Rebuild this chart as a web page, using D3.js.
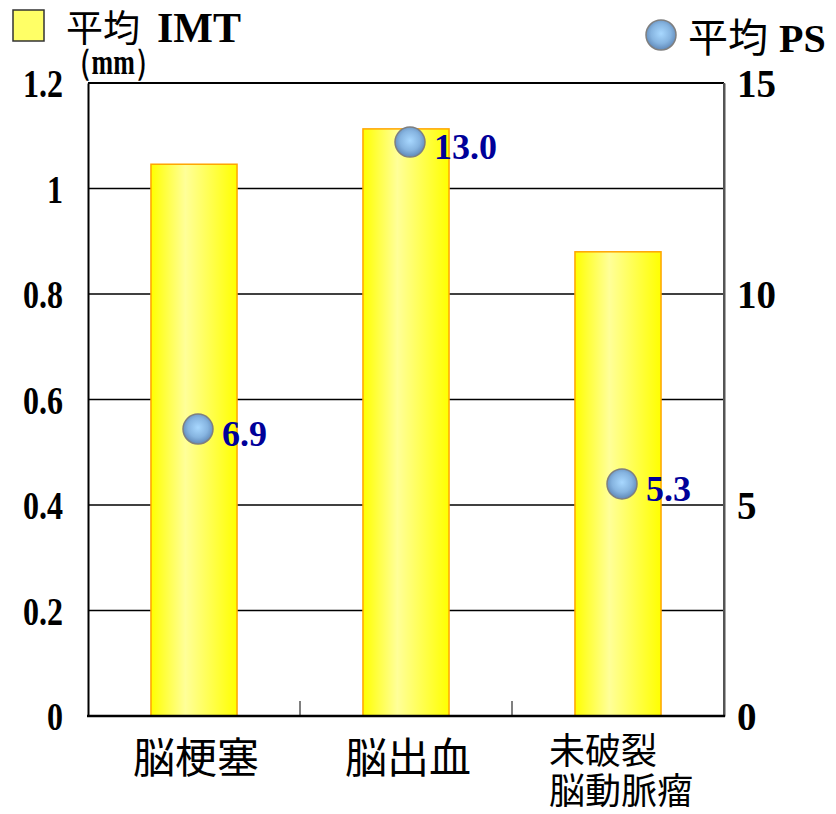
<!DOCTYPE html>
<html>
<head>
<meta charset="utf-8">
<script src="https://cdn.jsdelivr.net/npm/d3@7"></script>
<style>
  html, body { margin: 0; padding: 0; background: #fff; }
  svg { display: block; }
</style>
</head>
<body>
<script>
// ---- data ----
const categories = ["脳梗塞", "脳出血", "未破裂脳動脈瘤"];
const categoryLines = [["脳梗塞"], ["脳出血"], ["未破裂", "脳動脈瘤"]];
const imtValues = [1.046, 1.113, 0.880];
const psValues = [6.8, 13.6, 5.5];
const psLabels = ["6.9", "13.0", "5.3"];
const leftTicks = [0, 0.2, 0.4, 0.6, 0.8, 1.0, 1.2];
const leftTickLabels = ["0", "0.2", "0.4", "0.6", "0.8", "1", "1.2"];
const rightTicks = [0, 5, 10, 15];
const legendIMT = ["平均", "IMT"];
const legendPS = ["平均", "PS"];
const unitLabel = "（mm）";

// ---- layout ----
const W = 836, H = 814;
const L = 88, R = 724, T = 83, B = 716;
const serif = "'Liberation Serif', 'Times New Roman', serif";
const cjk = "'Noto Sans CJK JP', 'Noto Sans', sans-serif";

const svg = d3.select("body").append("svg").attr("width", W).attr("height", H);
const defs = svg.append("defs");

const barGrad = defs.append("linearGradient").attr("id", "barGrad")
  .attr("x1", "0%").attr("x2", "100%").attr("y1", "0%").attr("y2", "0%");
barGrad.append("stop").attr("offset", "0%").attr("stop-color", "#ffff00");
barGrad.append("stop").attr("offset", "40%").attr("stop-color", "#ffff99");
barGrad.append("stop").attr("offset", "100%").attr("stop-color", "#ffff00");

const dotGrad = defs.append("radialGradient").attr("id", "dotGrad")
  .attr("cx", "50%").attr("cy", "45%").attr("r", "55%");
dotGrad.append("stop").attr("offset", "0%").attr("stop-color", "#a8d8ff");
dotGrad.append("stop").attr("offset", "60%").attr("stop-color", "#86b4e0");
dotGrad.append("stop").attr("offset", "100%").attr("stop-color", "#5f88b8");

const x = d3.scaleBand().domain(categories).range([L, R])
  .paddingInner(0.594).paddingOuter(0.297);
const yL = d3.scaleLinear().domain([0, 1.2]).range([B, T]);
const yR = d3.scaleLinear().domain([0, 15]).range([B, T]);

// gridlines
svg.append("g").selectAll("line").data(leftTicks.filter(d => d > 0 && d < 1.2)).join("line")
  .attr("x1", L).attr("x2", R).attr("y1", d => yL(d)).attr("y2", d => yL(d))
  .attr("stroke", "#000").attr("stroke-width", 1.5);

// bars
svg.append("g").selectAll("rect").data(categories).join("rect")
  .attr("x", d => x(d)).attr("width", x.bandwidth())
  .attr("y", (d, i) => yL(imtValues[i])).attr("height", (d, i) => B - yL(imtValues[i]))
  .attr("fill", "url(#barGrad)").attr("stroke", "#ffa500").attr("stroke-width", 1.5);

// frame
svg.append("line").attr("x1", L).attr("x2", R).attr("y1", T).attr("y2", T)
  .attr("stroke", "#000").attr("stroke-width", 2);
svg.append("line").attr("x1", R).attr("x2", R).attr("y1", T).attr("y2", B)
  .attr("stroke", "#555").attr("stroke-width", 2);

// category separator ticks
const step = x.step();
const seps = categories.slice(0, -1).map(c => x(c) + x.bandwidth() + (step - x.bandwidth()) / 2);
svg.append("g").selectAll("line").data(seps).join("line")
  .attr("x1", d => d).attr("x2", d => d).attr("y1", B).attr("y2", B - 15)
  .attr("stroke", "#000").attr("stroke-width", 1);

// left axis
const gL = svg.append("g").attr("transform", `translate(${L},0)`)
  .call(d3.axisLeft(yL).tickValues(leftTicks).tickSize(0).tickPadding(25)
    .tickFormat((d, i) => leftTickLabels[i]));
gL.select(".domain").attr("stroke", "#000").attr("stroke-width", 2);
gL.selectAll("text")
  .attr("font-family", serif).attr("font-weight", "bold").attr("font-size", 40)
  .attr("fill", "#000").attr("dy", "0.34em")
  .attr("transform", "translate(-25,0) scale(0.8,1) translate(25,0)");

// right axis
const gR = svg.append("g").attr("transform", `translate(${R},0)`)
  .call(d3.axisRight(yR).tickValues(rightTicks).tickSize(0).tickPadding(13));
gR.select(".domain").attr("stroke", "#555").attr("stroke-width", 2);
gR.selectAll("text")
  .attr("font-family", serif).attr("font-weight", "bold").attr("font-size", 39)
  .attr("fill", "#000").attr("dy", "0.34em");

// bottom axis line
svg.append("line").attr("x1", L - 1).attr("x2", R + 1).attr("y1", B).attr("y2", B)
  .attr("stroke", "#000").attr("stroke-width", 2.5);

// PS points
const dotOffset = 4;
svg.append("g").selectAll("circle").data(categories).join("circle")
  .attr("cx", d => x(d) + x.bandwidth() / 2 + dotOffset)
  .attr("cy", (d, i) => yR(psValues[i])).attr("r", 15)
  .attr("fill", "url(#dotGrad)").attr("stroke", "#7f7f7f").attr("stroke-width", 1.5);

svg.append("g").selectAll("text").data(categories).join("text")
  .attr("x", d => x(d) + x.bandwidth() / 2 + dotOffset + 24)
  .attr("y", (d, i) => yR(psValues[i]) + 17)
  .attr("font-family", serif).attr("font-weight", "bold").attr("font-size", 36)
  .attr("fill", "#000099")
  .text((d, i) => psLabels[i]);

// category labels
categories.forEach((c, i) => {
  const lines = categoryLines[i];
  const cx = x(c) + x.bandwidth() / 2;
  if (lines.length === 1) {
    svg.append("text").attr("x", cx + 2).attr("y", 773)
      .attr("text-anchor", "middle").attr("font-family", cjk).attr("font-size", 42)
      .attr("fill", "#000").text(lines[0]);
  } else {
    lines.forEach((ln, j) => {
      svg.append("text").attr("font-family", cjk).attr("font-size", 36).attr("fill", "#000")
        .attr("x", cx - 69).attr("y", 764 + j * 40).text(ln);
    });
  }
});

// legend IMT
svg.append("rect").attr("x", 13).attr("y", 10).attr("width", 31).attr("height", 31)
  .attr("fill", "#ffff66").attr("stroke", "#333").attr("stroke-width", 1.5);
svg.append("text").attr("x", 66).attr("y", 42).attr("font-family", cjk).attr("font-size", 37)
  .attr("fill", "#000").text(legendIMT[0]);
svg.append("text").attr("x", 157).attr("y", 42).attr("font-family", serif).attr("font-weight", "bold")
  .attr("font-size", 42).attr("fill", "#000").text(legendIMT[1]);

svg.append("text").attr("x", 66).attr("y", 74).attr("font-family", serif).attr("font-weight", "bold")
  .attr("font-size", 36).attr("fill", "#000")
  .attr("transform", "translate(66,0) scale(0.72,1) translate(-66,0)")
  .text(unitLabel);

// legend PS
svg.append("circle").attr("cx", 661).attr("cy", 35).attr("r", 15)
  .attr("fill", "url(#dotGrad)").attr("stroke", "#7f7f7f").attr("stroke-width", 1.5);
svg.append("text").attr("x", 688).attr("y", 52).attr("font-family", cjk).attr("font-size", 40)
  .attr("fill", "#000").text(legendPS[0]);
svg.append("text").attr("x", 779).attr("y", 52).attr("font-family", serif).attr("font-weight", "bold")
  .attr("font-size", 40).attr("fill", "#000").text(legendPS[1]);
</script>
</body>
</html>
